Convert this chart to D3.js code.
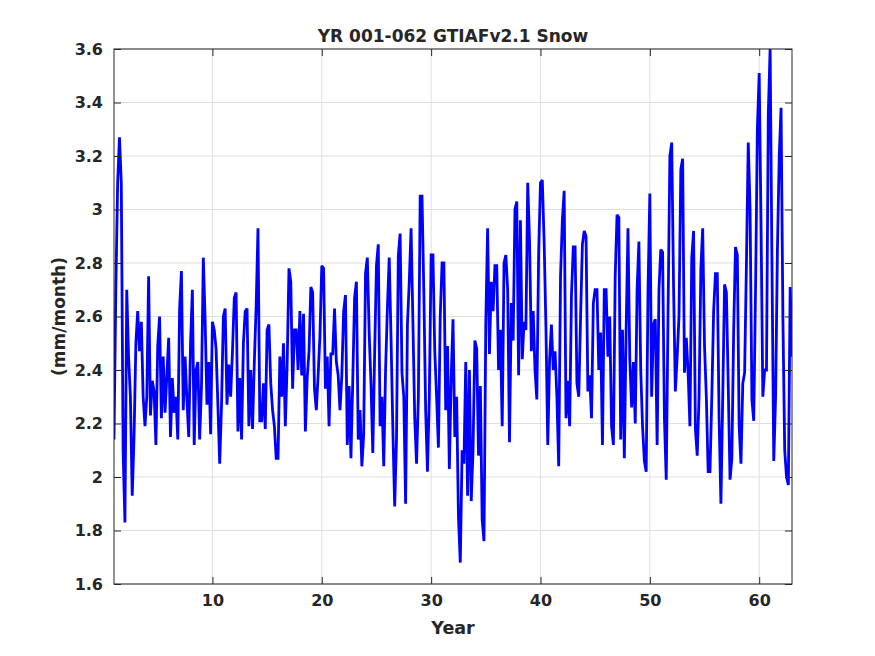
<!DOCTYPE html>
<html>
<head>
<meta charset="utf-8">
<script src="https://cdn.jsdelivr.net/npm/d3@7"></script>
<style>
  html, body { margin: 0; padding: 0; background: #fff; }
  svg { display: block; }
  text { font-family: "DejaVu Sans", sans-serif; font-weight: bold; fill: #262626; }
</style>
</head>
<body>
<svg id="chart" width="875" height="656"></svg>
<script>
// ---- data: snow rate (mm/month), sampled every 2 months, years 1..63 ----
const titleText = "YR 001-062 GTIAFv2.1 Snow";
const xLabel = "Year";
const yLabel = "(mm/month)";
const xTicks = [10, 20, 30, 40, 50, 60];
const yTicks = [1.6, 1.8, 2, 2.2, 2.4, 2.6, 2.8, 3, 3.2, 3.4, 3.6];
const xDomain = [1, 63];
const yDomain = [1.6, 3.6];
const samplesPerYear = 6;

const snowYr01to10 = [
  2.14, 2.70, 3.10, 3.27, 3.10, 2.10,
  1.83, 2.70, 2.45, 2.30, 1.93, 2.15,
  2.50, 2.62, 2.47, 2.58, 2.30, 2.19,
  2.30, 2.75, 2.23, 2.36, 2.32, 2.12,
  2.49, 2.60, 2.22, 2.45, 2.24, 2.38,
  2.52, 2.15, 2.37, 2.24, 2.30, 2.14,
  2.63, 2.77, 2.25, 2.45, 2.29, 2.15,
  2.50, 2.70, 2.12, 2.40, 2.43, 2.14,
  2.34, 2.82, 2.59, 2.27, 2.43, 2.16,
  2.58, 2.55, 2.48, 2.27, 2.05, 2.27
];
const snowYr11to20 = [
  2.60, 2.63, 2.27, 2.42, 2.30, 2.47,
  2.67, 2.69, 2.17, 2.37, 2.14, 2.50,
  2.62, 2.63, 2.19, 2.40, 2.18, 2.43,
  2.64, 2.93, 2.21, 2.21, 2.35, 2.18,
  2.55, 2.57, 2.35, 2.25, 2.19, 2.07,
  2.07, 2.45, 2.30, 2.50, 2.19, 2.42,
  2.78, 2.73, 2.33, 2.55, 2.55, 2.40,
  2.62, 2.38, 2.61, 2.17, 2.37, 2.47,
  2.71, 2.69, 2.33, 2.25, 2.38, 2.53,
  2.79, 2.78, 2.33, 2.45, 2.19, 2.46
];
const snowYr21to30 = [
  2.46, 2.63, 2.43, 2.38, 2.25, 2.38,
  2.62, 2.68, 2.12, 2.34, 2.07, 2.36,
  2.67, 2.73, 2.14, 2.25, 2.04, 2.16,
  2.76, 2.82, 2.54, 2.35, 2.09, 2.46,
  2.79, 2.87, 2.19, 2.30, 2.04, 2.40,
  2.63, 2.82, 2.52, 2.18, 1.89, 2.14,
  2.83, 2.91, 2.39, 2.30, 1.90, 2.57,
  2.73, 2.93, 2.58, 2.22, 2.05, 2.30,
  3.05, 3.05, 2.69, 2.25, 2.02, 2.30,
  2.83, 2.83, 2.47, 2.30, 2.11, 2.60
];
const snowYr31to40 = [
  2.80, 2.80, 2.25, 2.49, 2.03, 2.37,
  2.59, 2.15, 2.30, 1.85, 1.68, 2.10,
  2.05, 2.43, 1.93, 2.40, 1.91, 2.10,
  2.51, 2.48, 2.08, 2.34, 1.84, 1.76,
  2.58, 2.93, 2.46, 2.73, 2.62, 2.79,
  2.79, 2.40, 2.55, 2.19, 2.80, 2.83,
  2.70, 2.13, 2.65, 2.51, 3.00, 3.03,
  2.38, 2.96, 2.44, 2.58, 2.55, 3.10,
  2.88, 2.47, 2.62, 2.40, 2.29, 2.84,
  3.10, 3.11, 2.88, 2.56, 2.12, 2.44
];
const snowYr41to50 = [
  2.57, 2.40, 2.47, 2.30, 2.04, 2.75,
  2.96, 3.07, 2.22, 2.36, 2.19, 2.68,
  2.86, 2.86, 2.35, 2.30, 2.60, 2.87,
  2.92, 2.90, 2.32, 2.38, 2.22, 2.65,
  2.70, 2.70, 2.40, 2.54, 2.12, 2.70,
  2.70, 2.45, 2.60, 2.19, 2.12, 2.75,
  2.98, 2.97, 2.14, 2.55, 2.07, 2.55,
  2.93, 2.44, 2.26, 2.43, 2.20, 2.70,
  2.88, 2.40, 2.19, 2.06, 2.02, 2.70,
  3.06, 2.30, 2.57, 2.59, 2.12, 2.70
];
const snowYr51to63 = [
  2.85, 2.84, 2.22, 1.99, 2.62, 3.20,
  3.25, 2.72, 2.32, 2.45, 2.60, 3.15,
  3.19, 2.39, 2.52, 2.39, 2.19, 2.82,
  2.92, 2.18, 2.08, 2.30, 2.78, 2.93,
  2.49, 2.30, 2.02, 2.02, 2.30, 2.62,
  2.76, 2.76, 2.22, 1.90, 2.30, 2.72,
  2.69, 2.35, 1.99, 2.07, 2.55, 2.86,
  2.83, 2.19, 2.05, 2.35, 2.39, 2.80,
  3.25, 3.00, 2.29, 2.21, 2.70, 3.30,
  3.51, 2.95, 2.30, 2.40, 2.40, 3.36,
  3.60, 2.80, 2.06, 2.30, 2.85, 3.20,
  3.38, 2.60, 2.10, 2.00, 1.97, 2.71,
  2.45
];

const snow = [].concat(snowYr01to10, snowYr11to20, snowYr21to30,
                       snowYr31to40, snowYr41to50, snowYr51to63);
const series = snow.map((v, i) => ({ year: 1 + i / samplesPerYear, value: v }));

// ---- layout ----
const W = 875, H = 656;
const margin = { left: 114, right: 83, top: 49, bottom: 72 };
const iw = W - margin.left - margin.right;
const ih = H - margin.top - margin.bottom;

const svg = d3.select("#chart");
const g = svg.append("g").attr("transform", `translate(${margin.left},${margin.top})`);

const x = d3.scaleLinear().domain(xDomain).range([0, iw]);
const y = d3.scaleLinear().domain(yDomain).range([ih, 0]);

const axisColor = "#262626";
const gridColor = "#dfdfdf";
const tickLen = 7;

// grid
g.append("g").selectAll("line.gx").data(xTicks).join("line")
  .attr("x1", d => x(d)).attr("x2", d => x(d))
  .attr("y1", 0).attr("y2", ih)
  .attr("stroke", gridColor).attr("stroke-width", 1);
g.append("g").selectAll("line.gy").data(yTicks).join("line")
  .attr("x1", 0).attr("x2", iw)
  .attr("y1", d => y(d)).attr("y2", d => y(d))
  .attr("stroke", gridColor).attr("stroke-width", 1);

// clip
svg.append("defs").append("clipPath").attr("id", "plotclip")
  .append("rect").attr("x", 0).attr("y", 0).attr("width", iw).attr("height", ih);

// line
const line = d3.line().x(d => x(d.year)).y(d => y(d.value));
g.append("path")
  .datum(series)
  .attr("clip-path", "url(#plotclip)")
  .attr("fill", "none")
  .attr("stroke", "#0000ff")
  .attr("stroke-width", 2.8)
  .attr("stroke-linejoin", "miter")
  .attr("stroke-miterlimit", 2)
  .attr("d", line);

// axes (MATLAB style: ticks inward on all sides)
const fmt = d => String(+d.toFixed(1));
const tickFont = 16;

const xAxisB = d3.axisBottom(x).tickValues(xTicks).tickFormat(fmt).tickSizeInner(-tickLen).tickSizeOuter(0).tickPadding(11);
const xAxisT = d3.axisTop(x).tickValues(xTicks).tickFormat("").tickSizeInner(-tickLen).tickSizeOuter(0);
const yAxisL = d3.axisLeft(y).tickValues(yTicks).tickFormat(fmt).tickSizeInner(-tickLen).tickSizeOuter(0).tickPadding(11);
const yAxisR = d3.axisRight(y).tickValues(yTicks).tickFormat("").tickSizeInner(-tickLen).tickSizeOuter(0);

function styleAxis(sel) {
  sel.select(".domain").remove();
  sel.selectAll(".tick line").attr("stroke", axisColor).attr("stroke-width", 1);
  sel.selectAll(".tick text")
    .attr("fill", axisColor)
    .style("font-family", "'DejaVu Sans', sans-serif")
    .style("font-weight", "bold")
    .style("font-size", tickFont + "px");
}

g.append("g").attr("transform", `translate(0,${ih})`).call(xAxisB).call(styleAxis);
g.append("g").call(xAxisT).call(styleAxis);
g.append("g").call(yAxisL).call(styleAxis);
g.append("g").attr("transform", `translate(${iw},0)`).call(yAxisR).call(styleAxis);

// box
g.append("rect").attr("x", 0).attr("y", 0).attr("width", iw).attr("height", ih)
  .attr("fill", "none").attr("stroke", axisColor).attr("stroke-width", 1);

// labels
svg.append("text")
  .attr("x", margin.left + iw / 2).attr("y", 42)
  .attr("text-anchor", "middle")
  .style("font-size", "17px")
  .text(titleText);

svg.append("text")
  .attr("x", margin.left + iw / 2).attr("y", 634)
  .attr("text-anchor", "middle")
  .style("font-size", "17.5px")
  .text(xLabel);

svg.append("text")
  .attr("transform", `translate(65,${margin.top + ih / 2}) rotate(-90)`)
  .attr("text-anchor", "middle")
  .style("font-size", "17px")
  .text(yLabel);
</script>
</body>
</html>
